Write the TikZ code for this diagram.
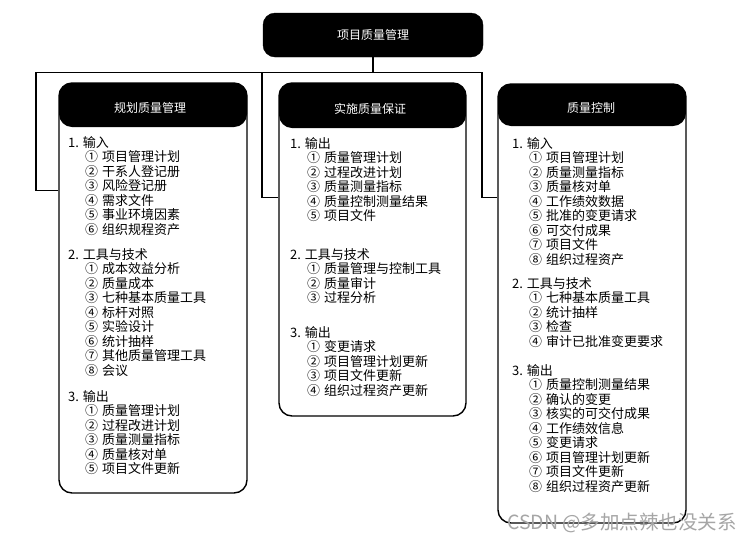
\documentclass[tikz,border=0pt]{standalone}
\usepackage{fontspec}
\newfontfamily\cjk{Noto Sans CJK SC}
\usetikzlibrary{calc}
\newlength\itgap
\setlength\itgap{4pt}
\newcommand\myitem[2]{\hspace*{17pt}#1\hspace{\itgap}#2}
\tikzset{
  topbox/.style={fill=black, draw=black, rounded corners=12pt, minimum width=220pt,
    minimum height=44pt, inner sep=0pt, text=white, font=\cjk\fontsize{12}{14}\selectfont},
  colbox/.style={draw=black, line width=1.4pt, rounded corners=13pt, fill=white, inner sep=0pt,
    path picture={\fill[black] (path picture bounding box.north west) rectangle
      ([yshift=-#1]path picture bounding box.north east);}},
  hdr/.style={text=white, inner sep=0pt, font=\cjk\fontsize{12}{14}\selectfont},
  sec/.style={anchor=north west, align=left, inner sep=0pt, font=\cjk\fontsize{13}{14.5}\selectfont},
  conn/.style={draw=black, line width=1.1pt},
  wmark/.style={text=black!35, inner sep=0pt, font=\cjk\fontsize{19.5}{21}\selectfont}
}
\begin{document}
\begin{tikzpicture}[x=1pt,y=-1pt]
\useasboundingbox (0,0) rectangle (754,547);
\fill[white] (0,0) rectangle (754,547);

% top box
\node[topbox] (top) at (373,35) {项目质量管理};

% column boxes
\node[colbox=44pt, minimum width=188pt, minimum height=410pt] (plan) at (153,288) {};
\node[colbox=45pt, minimum width=187pt, minimum height=333pt] (perf) at (372.5,249.5) {};
\node[colbox=42pt, minimum width=188pt, minimum height=439pt] (qc) at (592,303.5) {};

% headers
\node[hdr] (planT) at (150,108) {规划质量管理};
\node[hdr] (perfT) at (370,109) {实施质量保证};
\node[hdr] (qcT) at (591,108) {质量控制};

% connectors
\coordinate (hl) at (36,72.5);
\coordinate (hr) at (482,72.5);
\coordinate (hm) at (262,72.5);
\draw[conn] (top.south) -- (top.south |- hl);
\draw[conn] ($(plan.north west)+(0,108)$) -| (hl) -- (hr) |- ($(qc.north west)+(0,114)$);
\draw[conn] ($(perf.north west)+(0,115)$) -| (hm);

% left column text
\node[sec] (p1) at (68,136) {\setlength\itgap{8pt}1. 输入\\
\myitem{①}{项目管理计划}\\
\myitem{②}{干系人登记册}\\
\myitem{③}{风险登记册}\\
\myitem{④}{需求文件}\\
\myitem{⑤}{事业环境因素}\\
\myitem{⑥}{组织规程资产}};
\node[sec] (p2) at (68,248) {\setlength\itgap{12pt}2. 工具与技术\\
\myitem{①}{成本效益分析}\\
\myitem{②}{质量成本}\\
\myitem{③}{七种基本质量工具}\\
\myitem{④}{标杆对照}\\
\myitem{⑤}{实验设计}\\
\myitem{⑥}{统计抽样}\\
\myitem{⑦}{其他质量管理工具}\\
\myitem{⑧}{会议}};
\node[sec] (p3) at (68,390) {\setlength\itgap{12pt}3. 输出\\
\myitem{①}{质量管理计划}\\
\myitem{②}{过程改进计划}\\
\myitem{③}{质量测量指标}\\
\myitem{④}{质量核对单}\\
\myitem{⑤}{项目文件更新}};

% middle column text
\node[sec] (a1) at (290,137) {\setlength\itgap{6pt}1. 输出\\
\myitem{①}{质量管理计划}\\
\myitem{②}{过程改进计划}\\
\myitem{③}{质量测量指标}\\
\myitem{④}{质量控制测量结果}\\
\myitem{⑤}{项目文件}};
\node[sec] (a2) at (290,248) {\setlength\itgap{6pt}2. 工具与技术\\
\myitem{①}{质量管理与控制工具}\\
\myitem{②}{质量审计}\\
\myitem{③}{过程分析}};
\node[sec] (a3) at (290,326) {\setlength\itgap{6pt}3. 输出\\
\myitem{①}{变更请求}\\
\myitem{②}{项目管理计划更新}\\
\myitem{③}{项目文件更新}\\
\myitem{④}{组织过程资产更新}};

% right column text
\node[sec] (c1) at (512,137) {\setlength\itgap{6.5pt}1. 输入\\
\myitem{①}{项目管理计划}\\
\myitem{②}{质量测量指标}\\
\myitem{③}{质量核对单}\\
\myitem{④}{工作绩效数据}\\
\myitem{⑤}{批准的变更请求}\\
\myitem{⑥}{可交付成果}\\
\myitem{⑦}{项目文件}\\
\myitem{⑧}{组织过程资产}};
\node[sec] (c2) at (512,277) {\setlength\itgap{6.5pt}2. 工具与技术\\
\myitem{①}{七种基本质量工具}\\
\myitem{②}{统计抽样}\\
\myitem{③}{检查}\\
\myitem{④}{审计已批准变更要求}};
\node[sec] (c3) at (512,364) {\setlength\itgap{6.5pt}3. 输出\\
\myitem{①}{质量控制测量结果}\\
\myitem{②}{确认的变更}\\
\myitem{③}{核实的可交付成果}\\
\myitem{④}{工作绩效信息}\\
\myitem{⑤}{变更请求}\\
\myitem{⑥}{项目管理计划更新}\\
\myitem{⑦}{项目文件更新}\\
\myitem{⑧}{组织过程资产更新}};

% watermark
\node[wmark] (wm) at (622,523) {CSDN @多加点辣也没关系};
\end{tikzpicture}
\end{document}
